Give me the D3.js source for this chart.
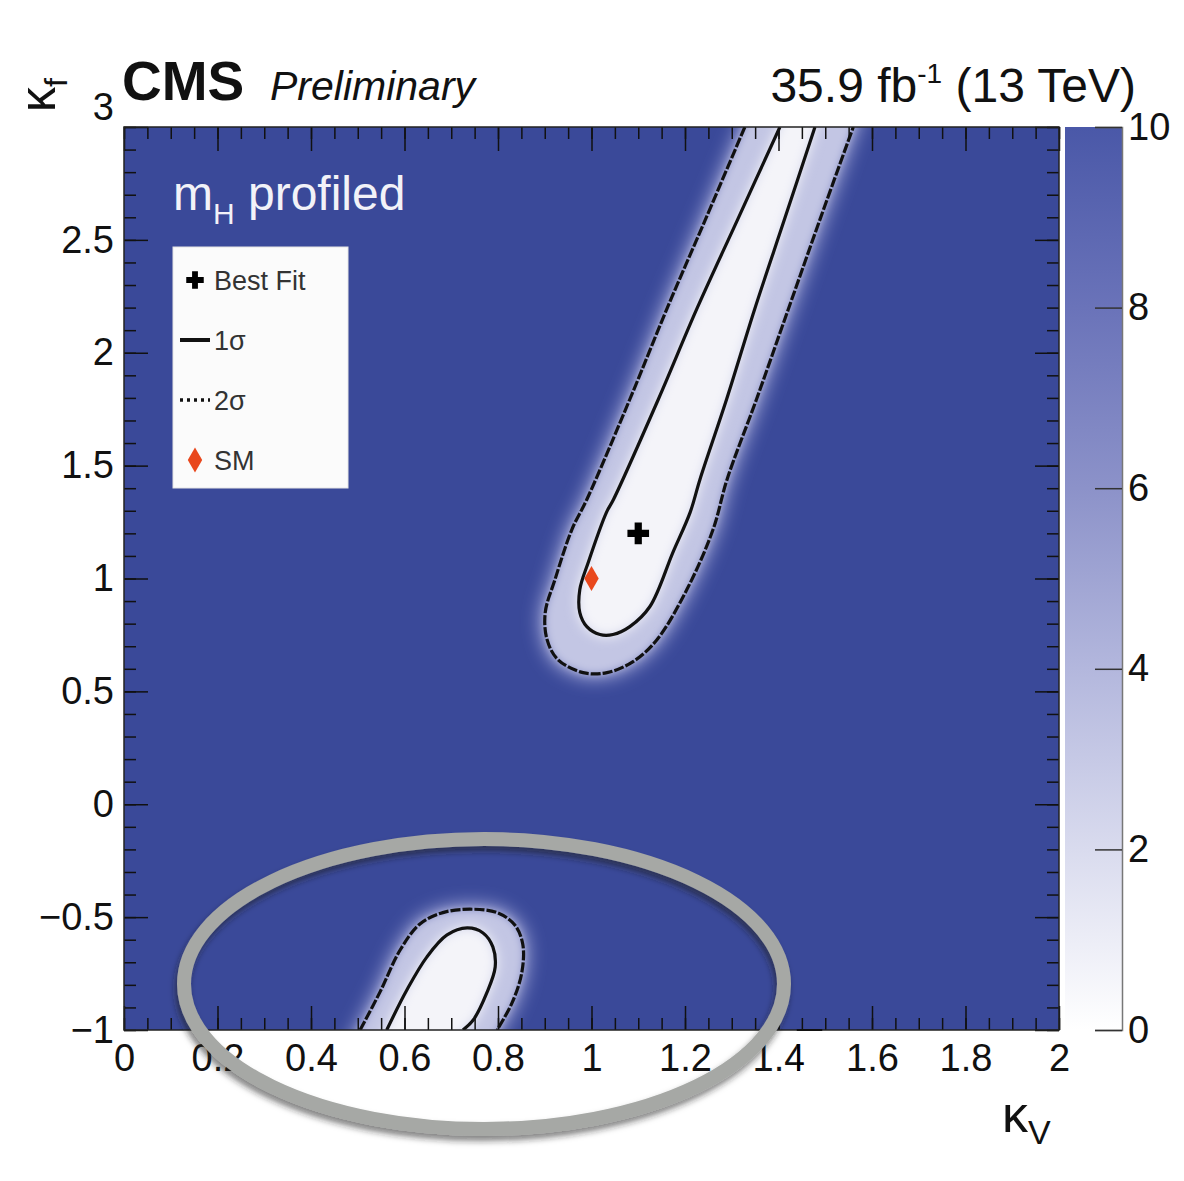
<!DOCTYPE html>
<html>
<head>
<meta charset="utf-8">
<script src="https://cdn.jsdelivr.net/npm/d3@7"></script>
<style>
  body { margin: 0; background: #fff; }
  text { font-family: "Liberation Sans", Arial, sans-serif; }
</style>
</head>
<body>
<div class="graph"></div>
<script>
var width = 1184;
var height = 1181;

// contour lines, [kappaV, kappaF]
var sigma2Upper = [[1.328, 3.0], [1.244, 2.592], [1.161, 2.193], [1.082, 1.794], [0.99, 1.35], [0.958, 1.217],
  [0.922, 0.996], [0.901, 0.849], [0.905, 0.729], [0.928, 0.641], [0.982, 0.583], [1.033, 0.583],
  [1.089, 0.632], [1.14, 0.729], [1.204, 0.951], [1.26, 1.217], [1.29, 1.439], [1.353, 1.794],
  [1.421, 2.193], [1.489, 2.592], [1.56, 3.0]];
var sigma1Upper = [[1.403, 3.0], [1.313, 2.592], [1.225, 2.193], [1.143, 1.794], [1.047, 1.35], [1.032, 1.293],
  [0.993, 1.071], [0.975, 0.951], [0.975, 0.849], [0.99, 0.787], [1.018, 0.752], [1.046, 0.752],
  [1.082, 0.787], [1.125, 0.876], [1.174, 1.115], [1.211, 1.293], [1.232, 1.439], [1.289, 1.794],
  [1.349, 2.193], [1.413, 2.592], [1.478, 3.0]];
var sigma2Lower = [[0.505, -1.0], [0.548, -0.83], [0.59, -0.648], [0.633, -0.53], [0.682, -0.48], [0.74, -0.465],
  [0.798, -0.48], [0.836, -0.535], [0.853, -0.62], [0.851, -0.745], [0.83, -0.88], [0.798, -1.0]];
var sigma1Lower = [[0.562, -1.0], [0.605, -0.823], [0.648, -0.676], [0.691, -0.579], [0.734, -0.548],
  [0.768, -0.57], [0.789, -0.632], [0.794, -0.721], [0.776, -0.836], [0.747, -0.956], [0.725, -1.0]];

var bestFit = [1.10, 1.20];
var smPoint = [1.0, 1.0];

var xTicks = [0, 0.2, 0.4, 0.6, 0.8, 1, 1.2, 1.4, 1.6, 1.8, 2];
var yTicks = [-1, -0.5, 0, 0.5, 1, 1.5, 2, 2.5, 3];
var zTicks = [0, 2, 4, 6, 8, 10];
var zColors = ["#ffffff", "#d9dbee", "#b3b7dd", "#8c92c9", "#6a73b9", "#4a58a8"];

var legendItems = ["Best Fit", "1σ", "2σ", "SM"];

var bgBlue = "#3a4999";

var x = d3.scaleLinear().domain([0, 2]).range([124, 1059]);
var y = d3.scaleLinear().domain([-1, 3]).range([1030, 127]);
var z = d3.scaleLinear().domain([0, 10]).range([1030, 127]);

var svg = d3.select(".graph").append("svg")
  .attr("width", width)
  .attr("height", height);

var defs = svg.append("defs");

defs.append("clipPath").attr("id", "plotClip")
  .append("rect")
  .attr("x", x(0)).attr("y", y(3))
  .attr("width", x(2) - x(0)).attr("height", y(-1) - y(3));

function blur(id, sd) {
  defs.append("filter").attr("id", id)
    .attr("x", "-50%").attr("y", "-50%").attr("width", "200%").attr("height", "200%")
    .append("feGaussianBlur").attr("stdDeviation", sd);
}
blur("blurHalo", 8);
blur("blurBand", 4);
blur("blurCore", 6);

var shadow = defs.append("filter").attr("id", "shadow")
  .attr("x", "-20%").attr("y", "-20%").attr("width", "140%").attr("height", "140%");
shadow.append("feDropShadow")
  .attr("dx", -2).attr("dy", 5).attr("stdDeviation", 3)
  .attr("flood-color", "#222").attr("flood-opacity", 0.55);

var grad = defs.append("linearGradient").attr("id", "zGrad")
  .attr("x1", 0).attr("y1", 1).attr("x2", 0).attr("y2", 0);
zTicks.forEach(function (t, i) {
  grad.append("stop").attr("offset", t / 10).attr("stop-color", zColors[i]);
});

var line = d3.line()
  .x(d => x(d[0]))
  .y(d => y(d[1]))
  .curve(d3.curveCatmullRom);

// closed outline for the filled regions: carry both ends past the frame edge
function fillPath(pts) {
  var a = pts[0], b = pts[1];
  var n = pts.length;
  var c = pts[n - 1], e = pts[n - 2];
  var start = [a[0] + (a[0] - b[0]) * 1.5, a[1] + (a[1] - b[1]) * 1.5];
  var end = [c[0] + (c[0] - e[0]) * 1.5, c[1] + (c[1] - e[1]) * 1.5];
  return line([start].concat(pts, [end])) + "Z";
}

// plot area
var plot = svg.append("g").attr("clip-path", "url(#plotClip)");

plot.append("rect")
  .attr("x", x(0)).attr("y", y(3))
  .attr("width", x(2) - x(0)).attr("height", y(-1) - y(3))
  .attr("fill", bgBlue);

var islands = [[sigma2Upper, sigma1Upper], [sigma2Lower, sigma1Lower]];

islands.forEach(function (isl) {
  plot.append("path")
    .attr("d", fillPath(isl[0]))
    .attr("fill", "#8a91c9")
    .attr("stroke", "#8a91c9")
    .attr("stroke-width", 14)
    .attr("filter", "url(#blurHalo)");
  plot.append("path")
    .attr("d", fillPath(isl[0]))
    .attr("fill", "#c3c6e4")
    .attr("filter", "url(#blurBand)");
  plot.append("path")
    .attr("d", fillPath(isl[1]))
    .attr("fill", "#f4f4f9")
    .attr("stroke", "#eeeff7")
    .attr("stroke-width", 4)
    .attr("filter", "url(#blurCore)");
});

islands.forEach(function (isl) {
  plot.append("path")
    .attr("d", line(isl[1]))
    .attr("fill", "none")
    .attr("stroke", "#111")
    .attr("stroke-width", 3.2);
  plot.append("path")
    .attr("d", line(isl[0]))
    .attr("fill", "none")
    .attr("stroke", "#111")
    .attr("stroke-width", 3.2)
    .style("stroke-dasharray", "10,2");
});

plot.append("path")
  .attr("transform", "translate(" + x(smPoint[0]) + "," + y(smPoint[1]) + ")")
  .attr("d", d3.symbol(d3.symbolDiamond, 180)())
  .attr("fill", "#e9481d");

plot.append("path")
  .attr("transform", "translate(" + x(bestFit[0]) + "," + y(bestFit[1]) + ")")
  .attr("d", d3.symbol(d3.symbolCross, 260)())
  .attr("fill", "#000");

// axes with inward ticks, major and minor
var fmt = d3.format("~g");

function addAxis(axis, tx, ty, labels) {
  var g = svg.append("g")
    .attr("transform", "translate(" + tx + "," + ty + ")")
    .call(axis);
  g.select(".domain").remove();
  g.selectAll("line").attr("stroke", "#111").attr("stroke-width", 1.5);
  if (!labels) g.selectAll("text").remove();
  return g;
}

var xMinor = d3.range(0, 2.0001, 0.05);
var yMinor = d3.range(-1, 3.0001, 0.1);

addAxis(d3.axisBottom(x).tickValues(xMinor).tickSize(-12).tickFormat(""), 0, y(-1), false);
addAxis(d3.axisTop(x).tickValues(xMinor).tickSize(-12).tickFormat(""), 0, y(3), false);
addAxis(d3.axisLeft(y).tickValues(yMinor).tickSize(-12).tickFormat(""), x(0), 0, false);
addAxis(d3.axisRight(y).tickValues(yMinor).tickSize(-12).tickFormat(""), x(2), 0, false);
addAxis(d3.axisTop(x).tickValues(xTicks).tickSize(-24).tickFormat(""), 0, y(3), false);
addAxis(d3.axisRight(y).tickValues(yTicks).tickSize(-24).tickFormat(""), x(2), 0, false);

var xAxisG = addAxis(d3.axisBottom(x).tickValues(xTicks).tickSize(-24).tickPadding(14).tickFormat(fmt), 0, y(-1), true);
var yAxisG = addAxis(d3.axisLeft(y).tickValues(yTicks).tickSize(-24).tickPadding(10).tickFormat(fmt), x(0), 0, true);

xAxisG.selectAll("text").attr("font-size", 38).attr("fill", "#111")
  .attr("font-family", "Liberation Sans, Arial, sans-serif");
yAxisG.selectAll("text").attr("font-size", 38).attr("fill", "#111")
  .attr("font-family", "Liberation Sans, Arial, sans-serif");
// top label sits a little above the frame corner, as in the scan
yAxisG.selectAll(".tick").filter(d => d === 3).select("text").attr("dy", "-0.2em");

svg.append("rect")
  .attr("x", x(0)).attr("y", y(3))
  .attr("width", x(2) - x(0)).attr("height", y(-1) - y(3))
  .attr("fill", "none")
  .attr("stroke", "#222")
  .attr("stroke-width", 1.5);

// colour bar
var zx0 = 1065, zx1 = 1122;
svg.append("rect")
  .attr("x", zx0).attr("y", z(10))
  .attr("width", zx1 - zx0).attr("height", z(0) - z(10))
  .attr("fill", "url(#zGrad)");

var zAxisG = svg.append("g")
  .attr("transform", "translate(" + zx1 + ",0)")
  .call(d3.axisRight(z).tickValues(zTicks).tickSize(-27).tickPadding(6).tickFormat(fmt));
zAxisG.select(".domain").attr("stroke", "#777").attr("stroke-width", 1.5);
zAxisG.selectAll("line").attr("stroke", "#333").attr("stroke-width", 1.5);
zAxisG.selectAll("text").attr("font-size", 38).attr("fill", "#111")
  .attr("font-family", "Liberation Sans, Arial, sans-serif");

// legend
var leg = svg.append("g").attr("transform", "translate(173,247)");
leg.append("rect")
  .attr("width", 175).attr("height", 241)
  .attr("fill", "#fbfbfb")
  .attr("stroke", "#e4e4e4");

legendItems.forEach(function (label, i) {
  var cy = 33 + i * 60;
  var row = leg.append("g").attr("transform", "translate(0," + cy + ")");
  if (i === 0) {
    row.append("path").attr("transform", "translate(22,0)")
      .attr("d", d3.symbol(d3.symbolCross, 170)()).attr("fill", "#000");
  } else if (i === 1) {
    row.append("line").attr("x1", 7).attr("x2", 37).attr("stroke", "#111").attr("stroke-width", 4);
  } else if (i === 2) {
    row.append("line").attr("x1", 7).attr("x2", 37).attr("stroke", "#111").attr("stroke-width", 3.5)
      .style("stroke-dasharray", "3,4");
  } else {
    row.append("path").attr("transform", "translate(22,0)")
      .attr("d", d3.symbol(d3.symbolDiamond, 180)()).attr("fill", "#e9481d");
  }
  row.append("text")
    .attr("x", 41).attr("dy", "0.36em")
    .attr("font-size", 27)
    .attr("fill", "#333")
    .text(label);
});

// texts
var mh = svg.append("text")
  .attr("x", 173).attr("y", 210)
  .attr("font-size", 48)
  .attr("fill", "#f2f2f8");
mh.append("tspan").text("m");
mh.append("tspan").attr("font-size", 30).attr("dy", 14).text("H");
mh.append("tspan").attr("dy", -14).text(" profiled");

svg.append("text")
  .attr("x", 122).attr("y", 100)
  .attr("font-size", 55).attr("font-weight", "bold")
  .attr("fill", "#111")
  .text("CMS");
svg.append("text")
  .attr("x", 270).attr("y", 100)
  .attr("font-size", 41).attr("font-style", "italic")
  .attr("fill", "#111")
  .text("Preliminary");

var lumi = svg.append("text")
  .attr("x", 1136).attr("y", 102)
  .attr("text-anchor", "end")
  .attr("font-size", 48)
  .attr("fill", "#111");
lumi.append("tspan").text("35.9 fb");
lumi.append("tspan").attr("font-size", 28).attr("dy", -19).text("-1");
lumi.append("tspan").attr("dy", 19).text(" (13 TeV)");

var kv = svg.append("text")
  .attr("x", 1002).attr("y", 1132)
  .attr("font-size", 52)
  .attr("fill", "#111");
kv.append("tspan").text("κ");
kv.append("tspan").attr("font-size", 34).attr("dy", 12).text("V");

var kf = svg.append("text")
  .attr("transform", "translate(55,78) rotate(-90)")
  .attr("text-anchor", "end")
  .attr("font-size", 50)
  .attr("fill", "#111");
kf.append("tspan").text("κ");
kf.append("tspan").attr("font-size", 32).attr("dy", 12).text("f");

// grey annotation ring round the lower island
svg.append("ellipse")
  .attr("cx", 484).attr("cy", 984)
  .attr("rx", 300).attr("ry", 145)
  .attr("fill", "none")
  .attr("stroke", "#a6a8a5")
  .attr("stroke-width", 14)
  .attr("filter", "url(#shadow)");

// small patch where the ring was cut away near 1.4
defs.append("clipPath").attr("id", "patchClip")
  .append("rect")
  .attr("x", x(1.4) + 18).attr("y", y(-1) - 30)
  .attr("width", 26).attr("height", 80);
var patch = svg.append("g").attr("clip-path", "url(#patchClip)");
patch.append("rect")
  .attr("x", x(1.4) + 18).attr("y", y(-1) + 1)
  .attr("width", 26).attr("height", 48)
  .attr("fill", "#fff");
patch.append("line")
  .attr("x1", x(1.4) + 18).attr("x2", x(1.4) + 44)
  .attr("y1", y(-1)).attr("y2", y(-1))
  .attr("stroke", "#111").attr("stroke-width", 2);
patch.append("text")
  .attr("x", x(1.4)).attr("y", y(-1) + 14)
  .attr("dy", "0.71em")
  .attr("text-anchor", "middle")
  .attr("font-size", 38)
  .attr("fill", "#000")
  .text(fmt(1.4));
</script>
</body>
</html>
